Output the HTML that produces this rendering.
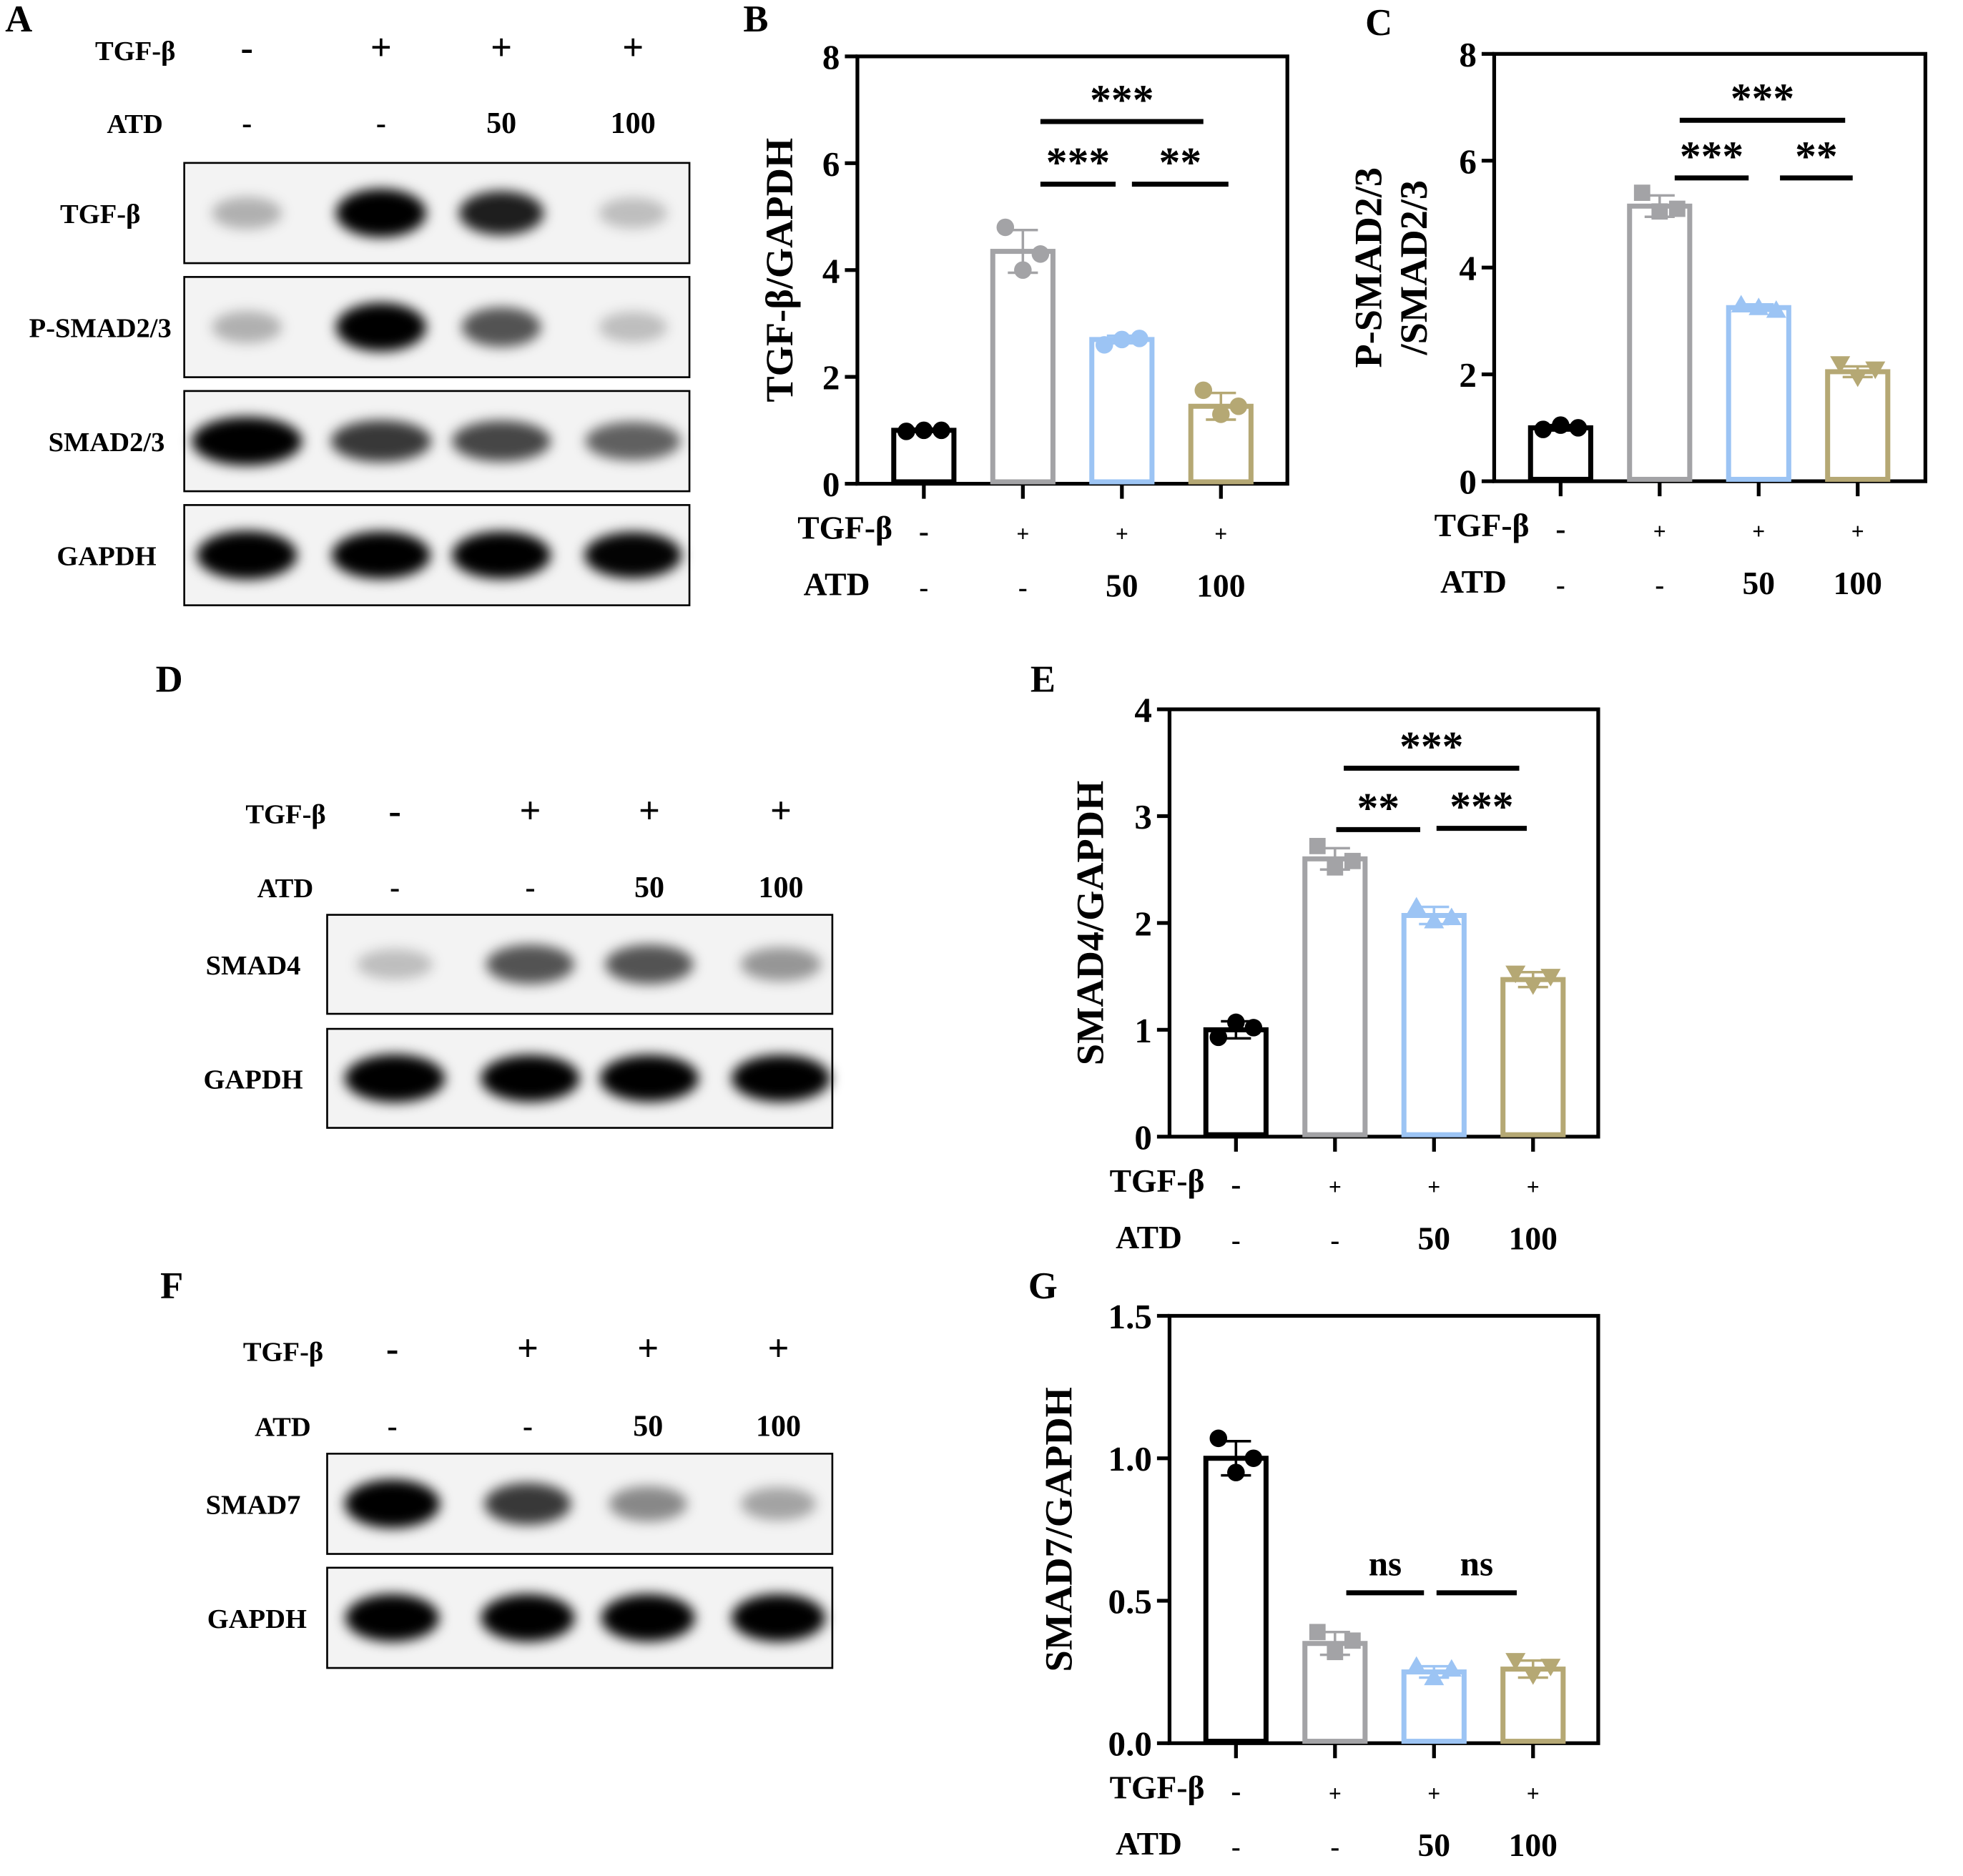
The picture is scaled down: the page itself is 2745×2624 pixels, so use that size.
<!DOCTYPE html>
<html><head><meta charset="utf-8"><style>
html,body{margin:0;padding:0;background:#fff;}
svg{display:block;}
text{font-family:"Liberation Serif",serif;font-weight:bold;fill:#000;}
</style></head><body>
<svg id="fig" width="2745" height="2624" viewBox="0 0 1566 1497" preserveAspectRatio="none" xmlns="http://www.w3.org/2000/svg">
<defs>
<filter id="blur4" x="-50%" y="-100%" width="200%" height="300%"><feGaussianBlur stdDeviation="5"/></filter>
</defs>
</svg>
<script>
// ---- data ----
const groups = ["ctrl","TGF","TGF+ATD50","TGF+ATD100"];
const tgfRow = ["-","+","+","+"];
const atdRow = ["-","-","50","100"];
const bValues = [1.0, 4.35, 2.7, 1.45];
const bPoints = [[0.98,1.0,1.0],[4.8,4.0,4.3],[2.6,2.7,2.72],[1.75,1.3,1.45]];
const bErr = [0.03, 0.4, 0.07, 0.25];
const cValues = [1.0, 5.15, 3.25, 2.05];
const cPoints = [[0.97,1.05,1.0],[5.4,5.05,5.1],[3.3,3.25,3.2],[2.2,1.95,2.1]];
const cErr = [0.05, 0.2, 0.06, 0.1];
const eValues = [1.0, 2.6, 2.07, 1.47];
const ePoints = [[0.93,1.07,1.02],[2.72,2.52,2.58],[2.15,2.02,2.05],[1.53,1.42,1.5]];
const eErr = [0.08, 0.1, 0.08, 0.07];
const gValues = [1.0, 0.35, 0.25, 0.26];
const gPoints = [[1.07,0.95,1.0],[0.39,0.32,0.36],[0.27,0.23,0.26],[0.29,0.24,0.27]];
const gErr = [0.06, 0.04, 0.02, 0.03];
const ticks8 = [0,2,4,6,8];
const ticks4 = [0,1,2,3,4];
const ticks15 = ["0.0","0.5","1.0","1.5"];
// blot band intensities (0..1)
const blotA_TGF = [0.25,1.0,0.8,0.2];
const blotA_P = [0.25,1.0,0.6,0.2];
const blotA_S = [1.0,0.7,0.65,0.55];
const blotA_G = [1.0,0.95,0.95,0.9];
const blotD_S4 = [0.2,0.6,0.6,0.35];
const blotD_G = [1.0,0.95,0.95,0.95];
const blotF_S7 = [1.0,0.7,0.4,0.3];
const blotF_G = [0.95,0.95,0.95,0.95];

const NS="http://www.w3.org/2000/svg";
const svg=document.getElementById('fig');
function el(tag,attrs,parent){const e=document.createElementNS(NS,tag);for(const k in attrs)e.setAttribute(k,attrs[k]);(parent||svg).appendChild(e);return e;}
function txt(x,y,s,size,anchor,parent){const t=el('text',{x:x,y:y,'font-size':size,'text-anchor':anchor||'middle'},parent);t.textContent=s;return t;}
const colors=["#000000","#a3a3a6","#9cc4f4","#b5a874"];

[["A",15,25],["B",603,25],["C",1100,28],["D",135,552],["E",832,552],["F",137,1036],["G",832,1036]].forEach(p=>{
  const t=txt(p[1],p[2],p[0],30);
  
  
});

function blotHeader(lx,xs,y1,y2,name){
  const g=el('g',{});
  
  
  txt(lx,y1,"TGF-β",22,'end',g);
  txt(lx-10,y2,"ATD",22,'end',g);
  xs.forEach((x,i)=>{txt(x,y1,tgfRow[i],30,'middle',g);txt(x,y2,atdRow[i],24,'middle',g);});
}
function blot(x0,y0,w,h,xs,vals,label,lx,name,bw){
  const g=el('g',{});
  
  
  el('rect',{x:x0,y:y0,width:w,height:h,fill:'#f3f3f3',stroke:'#000','stroke-width':1.5},g);
  xs.forEach((x,i)=>{
    const v=vals[i];
    el('ellipse',{cx:x,cy:y0+h/2,rx:(bw||36)*(0.7+0.3*v),ry:h*0.22*(0.6+0.5*v),fill:'#000','fill-opacity':Math.min(1,v*1.1),filter:'url(#blur4)'},g);
  });
  txt(lx,y0+h/2+8,label,22,'middle',g);
}
const axs=[197,304,400,505];
blotHeader(140,axs,48,106,'panel-a-header');
blot(147,130,403,80,axs,blotA_TGF,"TGF-β",80,'blot-a-tgfb');
blot(147,221,403,80,axs,blotA_P,"P-SMAD2/3",80,'blot-a-psmad');
blot(147,312,403,80,axs,blotA_S,"SMAD2/3",85,'blot-a-smad23',44);
blot(147,403,403,80,axs,blotA_G,"GAPDH",85,'blot-a-gapdh',40);
const dxs=[315,423,518,623];
blotHeader(260,dxs,657,716,'panel-d-header');
blot(261,730,403,79,dxs,blotD_S4,"SMAD4",202,'blot-d-smad4',40);
blot(261,821,403,79,dxs,blotD_G,"GAPDH",202,'blot-d-gapdh',40);
const fxs=[313,421,517,621];
blotHeader(258,fxs,1086,1146,'panel-f-header');
blot(261,1160,403,80,fxs,blotF_S7,"SMAD7",202,'blot-f-smad7',38);
blot(261,1251,403,80,fxs,blotF_G,"GAPDH",205,'blot-f-gapdh',38);

function chart(cfg){
  const g=el('g',{});
  
  
  const {x0,x1,y0,y1,ymax}=cfg;
  const Y=v=>y1-(v/ymax)*(y1-y0);
  const X=i=>x0+53+i*79;
  el('path',{d:`M${x0},${y0}H${x1}V${y1}H${x0}Z`,fill:'none',stroke:'#000','stroke-width':3},g);
  cfg.ticks.forEach(t=>{
    const v=parseFloat(t);
    el('line',{x1:x0-10,x2:x0,y1:Y(v),y2:Y(v),stroke:'#000','stroke-width':3},g);
    txt(x0-14,Y(v)+10,String(t),28,'end',g);
  });
  cfg.values.forEach((v,i)=>{
    const cx=X(i),c=colors[i];
    el('line',{x1:cx,x2:cx,y1:y1,y2:y1+12,stroke:'#000','stroke-width':3},g);
    const b=el('rect',{x:cx-24,y:Y(v),width:48,height:y1-Y(v)-1.5,fill:'none',stroke:c,'stroke-width':4},g);
    
    
    const e=cfg.err[i];
    el('path',{d:`M${cx},${Y(v-e)}V${Y(v+e)}M${cx-12},${Y(v+e)}h24M${cx-12},${Y(v-e)}h24`,stroke:c,'stroke-width':2,fill:'none'},g);
    cfg.points[i].forEach((p,j)=>{
      const px=cx-14+j*14,py=Y(p);
      const shape=cfg.markers?cfg.markers[i]:'c';
      let m;
      if(shape==='c')m=el('circle',{cx:px,cy:py,r:7,fill:c},g);
      else if(shape==='s')m=el('rect',{x:px-6.5,y:py-6.5,width:13,height:13,fill:c},g);
      else if(shape==='t')m=el('path',{d:`M${px},${py-8}L${px+8},${py+6}L${px-8},${py+6}Z`,fill:c},g);
      else m=el('path',{d:`M${px},${py+8}L${px+8},${py-6}L${px-8},${py-6}Z`,fill:c},g);
      
      
    });
    txt(cx,y1+46,tgfRow[i],tgfRow[i]==='+'?18:24,'middle',g);
    txt(cx,y1+90,atdRow[i],atdRow[i]==='-'?22:26,'middle',g);
  });
  txt(x0+28,y1+44,"TGF-β",26,'end',g);
  txt(x0+10,y1+89,"ATD",26,'end',g);
  cfg.sig.forEach(s=>{
    el('line',{x1:s[0],x2:s[1],y1:s[2],y2:s[2],stroke:'#000','stroke-width':4},g);
    txt((s[0]+s[1])/2,s[2]-(s[3]==='ns'?14:6),s[3],s[3]==='ns'?28:34,'middle',g);
  });
  cfg.ylabel.forEach((l,k)=>{
    const t=txt(0,0,l,31,'middle',g);
    t.setAttribute('transform',`translate(${cfg.ylx+k*36},${(y0+y1)/2}) rotate(-90)`);
  });
}
const mk=['c','s','t','v'];
chart({name:'chart-b-tgfb-gapdh',x0:684,x1:1027,y0:45,y1:386,ymax:8,ticks:ticks8,values:bValues,points:bPoints,err:bErr,
  sig:[[830,960,97,'***'],[830,890,147,'***'],[903,980,147,'**']],ylabel:["TGF-β/GAPDH"],ylx:632});
chart({name:'chart-c-psmad-smad',x0:1192,x1:1536,y0:43,y1:384,ymax:8,ticks:ticks8,values:cValues,points:cPoints,err:cErr,markers:mk,
  sig:[[1340,1472,96,'***'],[1336,1395,142,'***'],[1420,1478,142,'**']],ylabel:["P-SMAD2/3","/SMAD2/3"],ylx:1102});
chart({name:'chart-e-smad4-gapdh',x0:933,x1:1275,y0:566,y1:907,ymax:4,ticks:ticks4,values:eValues,points:ePoints,err:eErr,markers:mk,
  sig:[[1072,1212,613,'***'],[1066,1133,662,'**'],[1146,1218,661,'***']],ylabel:["SMAD4/GAPDH"],ylx:880});
chart({name:'chart-g-smad7-gapdh',x0:933,x1:1275,y0:1050,y1:1391,ymax:1.5,ticks:ticks15,values:gValues,points:gPoints,err:gErr,markers:mk,
  sig:[[1074,1136,1271,'ns'],[1146,1210,1271,'ns']],ylabel:["SMAD7/GAPDH"],ylx:855});
</script>
</body></html>
